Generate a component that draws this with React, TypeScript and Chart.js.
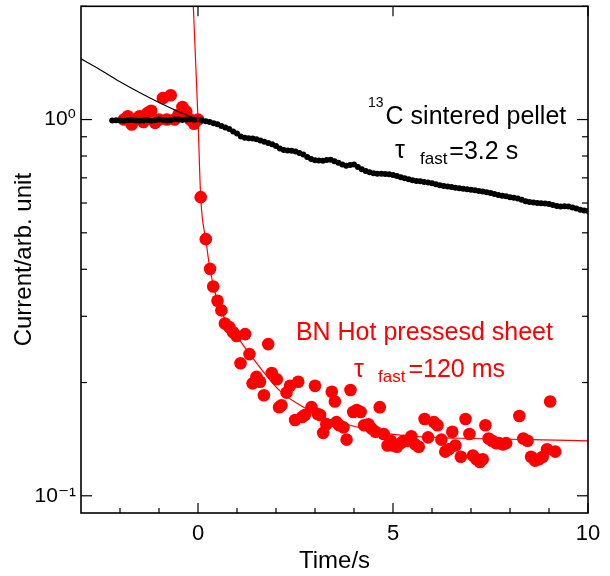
import React, { useEffect, useRef } from "react";
import { Chart, registerables } from "chart.js";

Chart.register(...registerables);

// ---------- axes ----------
const X_MIN = -3;
const X_MAX = 10;
const Y_MIN = 0.09;
const Y_MAX = 2;
const xMajorTicks = [0, 5, 10];
const xMinorTicks = [-2, -1, 1, 2, 3, 4, 6, 7, 8, 9];
const yMajorTicks = [0.1, 1];
const yTickLabels = ["10\u207B\u00B9", "10\u2070"];
const yMinorTicks = [0.2, 0.3, 0.4, 0.5, 0.6, 0.7, 0.8, 0.9, 2];
const xTitle = "Time/s";
const yTitle = "Current/arb. unit";

// ---------- 13C sintered pellet (black) ----------
const carbonTime = [
  -2.2, -2.1, -2.0, -1.9, -1.8, -1.7, -1.6, -1.5, -1.4, -1.3, -1.2, -1.1, -1.0, -0.9, -0.8, -0.7, -0.6, -0.5, -0.4, -0.3, -0.2, -0.1,
  0.0, 0.1, 0.2, 0.3, 0.4, 0.5, 0.6, 0.7, 0.8, 0.9, 1.0, 1.1, 1.2, 1.3, 1.4, 1.5, 1.6, 1.7, 1.8, 1.9,
  2.0, 2.1, 2.2, 2.3, 2.4, 2.5, 2.6, 2.7, 2.8, 2.9, 3.0, 3.1, 3.2, 3.3, 3.4, 3.5, 3.6, 3.7, 3.8, 3.9,
  4.0, 4.1, 4.2, 4.3, 4.4, 4.5, 4.6, 4.7, 4.8, 4.9, 5.0, 5.1, 5.2, 5.3, 5.4, 5.5, 5.6, 5.7, 5.8, 5.9,
  6.0, 6.1, 6.2, 6.3, 6.4, 6.5, 6.6, 6.7, 6.8, 6.9, 7.0, 7.1, 7.2, 7.3, 7.4, 7.5, 7.6, 7.7, 7.8, 7.9,
  8.0, 8.1, 8.2, 8.3, 8.4, 8.5, 8.6, 8.7, 8.8, 8.9, 9.0, 9.1, 9.2, 9.3, 9.4, 9.5, 9.6, 9.7, 9.8, 9.9, 10.0,
];
const carbonCurrent = [
  0.994, 0.996, 0.995, 0.993, 0.996, 0.998, 0.994, 0.992, 0.995, 0.997, 0.993, 0.996, 1.0, 0.998, 0.995, 0.998, 1.002, 1.0, 0.997, 1.0, 1.002, 0.999,
  1.0, 0.995, 0.99, 0.985, 0.978, 0.972, 0.962, 0.952, 0.944, 0.93, 0.918, 0.902, 0.895, 0.892, 0.89, 0.887, 0.88, 0.873, 0.867, 0.86,
  0.85, 0.838, 0.83, 0.828, 0.826, 0.822, 0.815, 0.807, 0.795, 0.785, 0.78, 0.778, 0.777, 0.781, 0.782, 0.775, 0.768, 0.76, 0.754, 0.757,
  0.759, 0.748, 0.738, 0.73, 0.724, 0.72, 0.718, 0.718, 0.717, 0.715, 0.712, 0.708, 0.703, 0.698, 0.694, 0.69, 0.687, 0.685, 0.682, 0.68,
  0.677, 0.673, 0.669, 0.666, 0.664, 0.662, 0.659, 0.657, 0.655, 0.653, 0.651, 0.649, 0.646, 0.644, 0.641, 0.638, 0.634, 0.63, 0.627, 0.625,
  0.622, 0.62, 0.617, 0.612, 0.607, 0.604, 0.602, 0.6, 0.599, 0.598, 0.596, 0.593, 0.589, 0.587, 0.588, 0.587, 0.584, 0.58, 0.576, 0.573, 0.571,
];
const carbonFitTime = [-3, -2.5, -2, -1.5, -1, -0.5, 0, 0.2];
const carbonFitCurrent = [1.45, 1.355, 1.26, 1.18, 1.11, 1.05, 1.0, 0.99];

// ---------- BN hot pressed sheet (red) ----------
const bnTime = [
  -1.9, -1.8, -1.7, -1.6, -1.5, -1.4, -1.3, -1.2, -1.1, -1.0, -0.9, -0.8, -0.7, -0.6, -0.5, -0.4, -0.3, -0.2, -0.1, 0.0,
  0.07, 0.2, 0.31, 0.39, 0.5, 0.6, 0.69, 0.8, 0.9, 0.99, 1.09, 1.21, 1.32, 1.4, 1.5, 1.59, 1.69, 1.8, 1.89, 2.02,
  2.08, 2.14, 2.27, 2.36, 2.49, 2.57, 2.67, 2.74, 2.91, 3.0, 3.07, 3.13, 3.21, 3.29, 3.43, 3.51, 3.55, 3.62, 3.73, 3.81,
  3.91, 3.98, 4.07, 4.17, 4.26, 4.37, 4.45, 4.55, 4.66, 4.76, 4.86, 4.94, 5.01, 5.1, 5.2, 5.28, 5.38, 5.47, 5.57, 5.66,
  5.81, 5.9, 6.05, 6.14, 6.24, 6.34, 6.43, 6.52, 6.6, 6.74, 6.86, 6.96, 7.05, 7.14, 7.23, 7.3, 7.37, 7.45, 7.54, 7.64,
  7.72, 7.82, 7.9, 8.24, 8.34, 8.45, 8.54, 8.64, 8.74, 8.84, 8.95, 9.03, 9.16,
];
const bnCurrent = [
  1.0, 1.02, 0.97, 1.0, 1.02, 0.985, 1.04, 1.055, 0.98, 1.0, 1.14, 1.0, 1.16, 1.0, 1.03, 1.08, 1.05, 1.0, 0.975, 1.0,
  0.622, 0.481, 0.401, 0.36, 0.33, 0.311, 0.287, 0.281, 0.272, 0.266, 0.225, 0.269, 0.238, 0.199, 0.207, 0.201, 0.185, 0.253, 0.212, 0.204,
  0.172, 0.174, 0.188, 0.196, 0.159, 0.201, 0.162, 0.164, 0.172, 0.196, 0.165, 0.164, 0.147, 0.155, 0.189, 0.178, 0.157, 0.154, 0.152, 0.141,
  0.191, 0.167, 0.169, 0.167, 0.154, 0.155, 0.151, 0.148, 0.172, 0.146, 0.136, 0.14, 0.136, 0.135, 0.138, 0.14, 0.14, 0.144, 0.137, 0.135,
  0.16, 0.143, 0.157, 0.154, 0.141, 0.131, 0.133, 0.148, 0.136, 0.127, 0.16, 0.146, 0.128, 0.125, 0.123, 0.125, 0.154, 0.142, 0.14, 0.138,
  0.138, 0.137, 0.138, 0.163, 0.142, 0.14, 0.127, 0.124, 0.125, 0.127, 0.133, 0.178, 0.131,
];
const bnFitTime = [-0.16, -0.12, -0.06, 0, 0.07, 0.2, 0.3, 0.4, 0.5, 0.6, 0.75, 1.0, 1.42, 2.1, 2.62, 3.2, 3.9, 4.9, 6.0, 7.0, 8.5, 10];
const bnFitCurrent = [2.5, 2.0, 1.42, 1.0, 0.62, 0.48, 0.405, 0.36, 0.33, 0.31, 0.287, 0.265, 0.231, 0.19, 0.174, 0.162, 0.154, 0.146, 0.143, 0.142, 0.141, 0.14];

// ---------- annotation anchors (data coordinates) ----------
const carbonLabelAt = { x: 4.36, y: 0.976 };
const carbonTauAt = { x: 5.05, y: 0.792 };
const bnLabelAt = { x: 2.51, y: 0.26 };
const bnTauAt = { x: 4.0, y: 0.207 };

const FONT = "'Liberation Sans', Arial, 'DejaVu Sans', sans-serif";
const RED = "#ff0000";
const BLACK = "#000000";

const toPoints = (xs: number[], ys: number[]) => xs.map((x, i) => ({ x, y: ys[i] }));

const frameTicksPlugin = {
  id: "frameTicks",
  afterDatasetsDraw(chart: any) {
    const { ctx, chartArea: a, scales } = chart;
    const sx = scales.x;
    const sy = scales.y;
    ctx.save();
    ctx.strokeStyle = BLACK;
    const seg = (x1: number, y1: number, x2: number, y2: number) => {
      ctx.beginPath();
      ctx.moveTo(x1, y1);
      ctx.lineTo(x2, y2);
      ctx.stroke();
    };
    ctx.lineWidth = 1.2;
    for (const v of xMajorTicks) {
      const px = sx.getPixelForValue(v);
      seg(px, a.bottom, px, a.bottom - 10);
      seg(px, a.top, px, a.top + 10);
    }
    for (const v of xMinorTicks) {
      const px = sx.getPixelForValue(v);
      seg(px, a.bottom, px, a.bottom - 5);
    }
    for (const v of yMajorTicks) {
      const py = sy.getPixelForValue(v);
      seg(a.left, py, a.left + 11, py);
      seg(a.right, py, a.right - 11, py);
    }
    for (const v of yMinorTicks) {
      const py = sy.getPixelForValue(v);
      seg(a.left, py, a.left + 6, py);
      seg(a.right, py, a.right - 6, py);
    }
    ctx.lineWidth = 1.6;
    ctx.strokeRect(a.left, a.top, a.right - a.left, a.bottom - a.top);
    ctx.restore();
  },
};

const annotationPlugin = {
  id: "annotations",
  afterDraw(chart: any) {
    const { ctx, scales } = chart;
    const px = (p: { x: number; y: number }) => [scales.x.getPixelForValue(p.x), scales.y.getPixelForValue(p.y)];
    ctx.save();
    ctx.textBaseline = "alphabetic";
    ctx.textAlign = "left";
    const put = (text: string, x: number, y: number, size: number, color: string) => {
      ctx.font = `${size}px ${FONT}`;
      ctx.fillStyle = color;
      ctx.fillText(text, x, y);
      return ctx.measureText(text).width;
    };

    // 13C sintered pellet
    let [x, y] = px(carbonLabelAt);
    const w13 = put("13", x, y - 17, 14, BLACK);
    put("C sintered pellet", x + w13 + 2, y, 25, BLACK);

    // tau fast = 3.2 s
    [x, y] = px(carbonTauAt);
    put("\u03C4", x, y, 25, BLACK);
    const wf1 = put("fast", x + 25, y + 6, 17, BLACK);
    put("=3.2 s", x + 25 + wf1 + 2, y + 1, 25, BLACK);

    // BN Hot pressesd sheet
    [x, y] = px(bnLabelAt);
    put("BN Hot pressesd sheet", x, y, 25, RED);

    // tau fast = 120 ms
    [x, y] = px(bnTauAt);
    put("\u03C4", x, y, 25, RED);
    const wf2 = put("fast", x + 24, y + 5, 17, RED);
    put("=120 ms", x + 24 + wf2 + 3, y, 25, RED);
    ctx.restore();
  },
};

export default function App() {
  const canvasRef = useRef<HTMLCanvasElement | null>(null);

  useEffect(() => {
    if (!canvasRef.current) return;
    const chart = new Chart(canvasRef.current, {
      type: "scatter",
      data: {
        datasets: [
          {
            label: "BN fit",
            data: toPoints(bnFitTime, bnFitCurrent),
            showLine: true,
            borderColor: RED,
            borderWidth: 1.2,
            pointRadius: 0,
            cubicInterpolationMode: "monotone",
          },
          {
            label: "13C fit",
            data: toPoints(carbonFitTime, carbonFitCurrent),
            showLine: true,
            borderColor: BLACK,
            borderWidth: 1.2,
            pointRadius: 0,
            cubicInterpolationMode: "monotone",
          },
          {
            label: "13C sintered pellet",
            data: toPoints(carbonTime, carbonCurrent),
            pointRadius: 3,
            pointBackgroundColor: BLACK,
            pointBorderWidth: 0,
            backgroundColor: BLACK,
            borderColor: BLACK,
          },
          {
            label: "BN Hot pressesd sheet",
            data: toPoints(bnTime, bnCurrent),
            pointRadius: 6.3,
            pointBackgroundColor: RED,
            pointBorderWidth: 0,
            backgroundColor: RED,
            borderColor: RED,
          },
        ],
      } as any,
      options: {
        responsive: false,
        animation: false,
        devicePixelRatio: 1,
        events: [],
        layout: { padding: { left: 0, top: 6, right: 22, bottom: 0 } },
        plugins: { legend: { display: false }, tooltip: { enabled: false } },
        scales: {
          x: {
            type: "linear",
            min: X_MIN,
            max: X_MAX,
            bounds: "data",
            grid: { display: false, drawTicks: false },
            border: { display: false },
            ticks: {
              color: BLACK,
              font: { family: FONT, size: 22 },
              padding: 8,
              maxRotation: 0,
              autoSkip: false,
              callback: (v: any) => String(v),
            },
            afterBuildTicks: (s: any) => {
              s.ticks = xMajorTicks.map((v) => ({ value: v }));
            },
            afterFit: (s: any) => {
              s.height = 63;
              s.paddingLeft = 0;
              s.paddingRight = 0;
            },
            title: {
              display: true,
              text: xTitle,
              color: BLACK,
              font: { family: FONT, size: 24 },
              padding: { top: 0, bottom: 0 },
            },
          },
          y: {
            type: "logarithmic",
            min: Y_MIN,
            max: Y_MAX,
            bounds: "data",
            grid: { display: false, drawTicks: false },
            border: { display: false },
            ticks: {
              color: BLACK,
              font: { family: FONT, size: 21 },
              padding: 5,
              autoSkip: false,
              callback: (v: any) => {
                const i = yMajorTicks.findIndex((t) => Math.abs(t - Number(v)) < 1e-9);
                return i >= 0 ? yTickLabels[i] : "";
              },
            },
            afterBuildTicks: (s: any) => {
              s.ticks = yMajorTicks.map((v) => ({ value: v }));
            },
            afterFit: (s: any) => {
              s.width = 81;
              s.paddingTop = 0;
              s.paddingBottom = 0;
            },
            title: {
              display: true,
              text: yTitle,
              color: BLACK,
              font: { family: FONT, size: 24 },
              padding: { top: 10, bottom: 0 },
            },
          },
        },
      } as any,
      plugins: [frameTicksPlugin, annotationPlugin],
    });
    return () => chart.destroy();
  }, []);

  return (
    <div style={{ position: "absolute", left: 0, top: 0, width: 610, height: 576, background: "#fff" }}>
      <canvas ref={canvasRef} width={610} height={576} style={{ display: "block", width: 610, height: 576 }} />
    </div>
  );
}
